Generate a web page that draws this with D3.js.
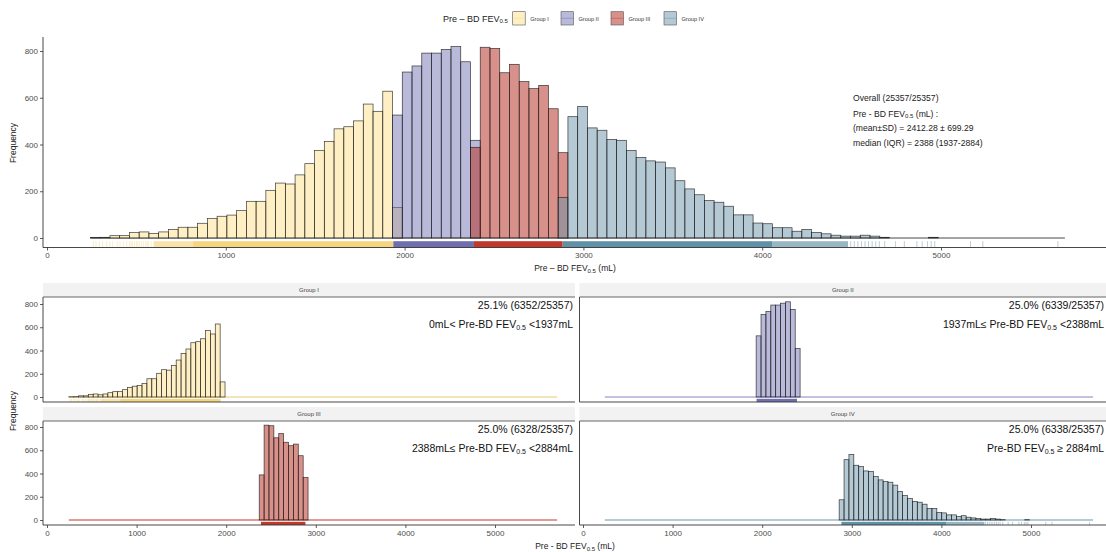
<!DOCTYPE html>
<html><head><meta charset="utf-8">
<script src="https://cdn.jsdelivr.net/npm/d3@7"></script>
<style>
body{margin:0;background:#fff}
svg{display:block}
text{font-family:"Liberation Sans",Arial,Helvetica,sans-serif}
</style>
</head><body>
<svg id="c" width="1106" height="552"></svg>
<script>
// ---------------- DATA ----------------
const groups = ["Group I", "Group II", "Group III", "Group IV"];
const binLow = 243, binWidth = 54.5, binTotal = 100;
const startBin = [0, 31, 39, 48];
const countsI = [2, 3, 10, 10, 23, 26, 19, 26, 37, 46, 46, 63, 83, 93, 98, 117, 157, 157, 204, 235, 231,
  270, 318, 375, 413, 467, 476, 501, 573, 542, 628, 130];
const countsII = [526, 710, 736, 791, 791, 807, 819, 754, 418];
const countsIII = [388, 816, 811, 707, 743, 669, 639, 653, 553, 365];
const countsIV = [174, 519, 563, 471, 461, 422, 418, 375, 345, 330, 325, 300, 245, 210, 185, 160,
  153, 136, 99, 99, 64, 61, 44, 44, 29, 37, 24, 18, 12, 8, 8, 12, 8, 3, 0, 0, 0, 0, 3];
const groupCounts = [countsI, countsII, countsIII, countsIV];

// rug: solid ranges, faint ranges and single ticks (mL)
const rugDense = [[[817, 1937]], [[1937, 2388]], [[2388, 2884]], [[2884, 4055]]];
const rugFaint = [[[596, 817]], [], [], [[4055, 4480]]];
const rugTicks = [
  [259, 274, 293, 311, 334, 352, 367, 393, 408, 427, 446, 462, 470, 478, 490, 500, 508, 518, 528, 540, 552, 560, 568, 582],
  [], [],
  [4495, 4515, 4535, 4555, 4575, 4595, 4615, 4635, 4655, 4685, 4745, 4795, 4865, 4895, 4925, 4945, 4965, 5165, 5234, 5654]
];

const xTicks = [0, 1000, 2000, 3000, 4000, 5000];
const yTicks = [0, 200, 400, 600, 800];
const pctLabels = ["25.1% (6352/25357)", "25.0% (6339/25357)", "25.0% (6328/25357)", "25.0% (6338/25357)"];
const rangePre = ["0mL< Pre-BD FEV", "1937mL\u2264 Pre-BD FEV", "2388mL\u2264 Pre-BD FEV", "Pre-BD FEV"];
const rangePost = [" <1937mL", " <2388mL", " <2884mL", " \u2265 2884mL"];
const overallLines = ["Overall (25357/25357)", null, "(mean\u00B1SD) = 2412.28 \u00B1 699.29", "median (IQR) = 2388 (1937-2884)"];

// ---------------- STYLE ----------------
const fillBase = ["#FFE08A", "#7473B5", "#B8352A", "#6A93AA"];
const fillOp = [0.5, 0.5, 0.55, 0.5];
const rugCol = ["#F5D57E", "#6F6FB0", "#C0392B", "#6191A6"];
const baseCol = ["#EBC870", "#8686BE", "#C0392B", "#6A98AD"];
const axisCol = "#333", tickTxt = "#4d4d4d";

const svg = d3.select("#c");
const edge = i => binLow + i * binWidth;

function styleAxis(g, labels) {
  g.select(".domain").remove();
  g.selectAll(".tick line").attr("stroke", axisCol).attr("stroke-width", 0.8);
  g.selectAll(".tick text").attr("fill", tickTxt).style("font-size", labels ? "8px" : "0px");
}

function addFEV(sel, pre, post, size, subSize) {
  sel.append("tspan").text(pre);
  sel.append("tspan").text("0.5").style("font-size", subSize + "px").attr("dy", size * 0.18);
  sel.append("tspan").text(post).attr("dy", -size * 0.18);
}

function drawRug(g, x, gi, yBot, len) {
  rugDense[gi].forEach(r => g.append("rect").attr("x", x(r[0])).attr("width", x(r[1]) - x(r[0]))
    .attr("y", yBot - len).attr("height", len).attr("fill", rugCol[gi]));
  rugFaint[gi].forEach(r => g.append("rect").attr("x", x(r[0])).attr("width", x(r[1]) - x(r[0]))
    .attr("y", yBot - len).attr("height", len).attr("fill", rugCol[gi]).attr("opacity", 0.65));
  rugTicks[gi].forEach(v => g.append("line").attr("x1", x(v)).attr("x2", x(v))
    .attr("y1", yBot - len).attr("y2", yBot).attr("stroke", rugCol[gi]).attr("stroke-width", 0.8).attr("opacity", 0.55));
}

function drawBars(g, x, y, gi) {
  const c = groupCounts[gi];
  c.forEach((v, k) => {
    if (v <= 0) return;
    const i = startBin[gi] + k;
    g.append("rect").attr("x", x(edge(i))).attr("width", x(edge(i + 1)) - x(edge(i)))
      .attr("y", y(v)).attr("height", y(0) - y(v))
      .attr("fill", fillBase[gi]).attr("fill-opacity", fillOp[gi])
      .attr("stroke", "#1a1a1a").attr("stroke-width", 0.7).attr("stroke-opacity", 0.85);
  });
}

// ---------------- TOP PANEL ----------------
const xT = d3.scaleLinear().domain([0, 5000]).range([47, 941]);
const yT = d3.scaleLinear().domain([0, 800]).range([238, 51]);
const topG = svg.append("g");
const axTopY = 247.5;

for (let gi = 0; gi < 4; gi++) drawRug(topG, xT, gi, axTopY, 6.3);
topG.append("line").attr("x1", xT(edge(0))).attr("x2", xT(edge(binTotal))).attr("y1", yT(0)).attr("y2", yT(0))
  .attr("stroke", "#1a1a1a").attr("stroke-width", 0.8);
for (let gi = 0; gi < 4; gi++) drawBars(topG, xT, yT, gi);

topG.append("line").attr("x1", 43).attr("x2", 1106).attr("y1", axTopY).attr("y2", axTopY).attr("stroke", axisCol).attr("stroke-width", 0.9);
topG.append("line").attr("x1", 43).attr("x2", 43).attr("y1", 37).attr("y2", axTopY).attr("stroke", axisCol).attr("stroke-width", 0.9);
topG.append("g").attr("transform", `translate(0,${axTopY})`)
  .call(d3.axisBottom(xT).tickValues(xTicks).tickFormat(d3.format("d")).tickSize(3).tickPadding(2))
  .call(g => styleAxis(g, true));
topG.append("g").attr("transform", "translate(43,0)")
  .call(d3.axisLeft(yT).tickValues(yTicks).tickSize(3).tickPadding(2))
  .call(g => styleAxis(g, true));

topG.append("text").attr("transform", "translate(16,143) rotate(-90)").attr("text-anchor", "middle")
  .style("font-size", "8.5px").attr("fill", "#222").text("Frequency");
const xtitle1 = topG.append("text").attr("x", 575).attr("y", 271).attr("text-anchor", "middle")
  .style("font-size", "8.5px").attr("fill", "#222");
addFEV(xtitle1, "Pre \u2013 BD FEV", " (mL)", 8.5, 6);

// overall annotation
const ann = topG.append("g").style("font-size", "8.6px").attr("fill", "#222");
[101, 116.5, 131, 145.5].forEach((yy, i) => {
  const t = ann.append("text").attr("x", 853).attr("y", yy);
  if (overallLines[i] === null) addFEV(t, "Pre - BD FEV", " (mL) :", 8.6, 6);
  else t.text(overallLines[i]);
});

// legend
const leg = svg.append("g");
const lt = leg.append("text").attr("x", 443).attr("y", 21.5).style("font-size", "9px").attr("fill", "#222");
addFEV(lt, "Pre \u2013 BD FEV", "", 9, 6);
const keyX = [512.7, 561, 611, 664];
groups.forEach((gname, gi) => {
  leg.append("rect").attr("x", keyX[gi]).attr("y", 11.7).attr("width", 12.5).attr("height", 13.3)
    .attr("fill", fillBase[gi]).attr("fill-opacity", fillOp[gi]).attr("stroke", "#555").attr("stroke-width", 0.6);
  leg.append("line").attr("x1", keyX[gi]).attr("x2", keyX[gi] + 12.5).attr("y1", 18.3).attr("y2", 18.3)
    .attr("stroke", rugCol[gi]).attr("stroke-width", 0.7).attr("opacity", 0.6);
  leg.append("text").attr("x", keyX[gi] + 17.5).attr("y", 20.5).style("font-size", "5.6px").attr("fill", "#333").text(gname);
});

// ---------------- FACET PANELS ----------------
const panels = [
  {gi: 0, x0: 43, x1: 575, zx: 47, stripTop: 283, ptop: 297, bot: 402, y0: 397, bottomRow: false},
  {gi: 1, x0: 579.5, x1: 1112, zx: 583, stripTop: 283, ptop: 297, bot: 402, y0: 397, bottomRow: false},
  {gi: 2, x0: 43, x1: 575, zx: 47, stripTop: 407, ptop: 421, bot: 525, y0: 520, bottomRow: true},
  {gi: 3, x0: 579.5, x1: 1112, zx: 583, stripTop: 407, ptop: 421, bot: 525, y0: 520, bottomRow: true}
];
panels.forEach(p => {
  const gi = p.gi;
  const x = d3.scaleLinear().domain([0, 5000]).range([p.zx, p.zx + 448]);
  const y = d3.scaleLinear().domain([0, 800]).range([p.y0, p.y0 - 93]);
  const g = svg.append("g");
  g.append("rect").attr("x", p.x0).attr("y", p.stripTop).attr("width", p.x1 - p.x0).attr("height", p.ptop - p.stripTop).attr("fill", "#f2f2f2");
  g.append("line").attr("x1", p.x0).attr("x2", p.x1).attr("y1", p.ptop).attr("y2", p.ptop).attr("stroke", "#666").attr("stroke-width", 1.2);
  g.append("text").attr("x", (p.x0 + p.x1) / 2 - (gi % 2 ? 3 : 0)).attr("y", p.stripTop + 9).attr("text-anchor", "middle")
    .style("font-size", "6px").attr("fill", "#444").text(groups[gi]);
  drawRug(g, x, gi, p.bot, 3.2);
  g.append("line").attr("x1", x(edge(0))).attr("x2", x(edge(binTotal))).attr("y1", y(0)).attr("y2", y(0))
    .attr("stroke", baseCol[gi]).attr("stroke-width", 1);
  drawBars(g, x, y, gi);
  g.append("line").attr("x1", p.x0).attr("x2", p.x1).attr("y1", p.bot).attr("y2", p.bot).attr("stroke", axisCol).attr("stroke-width", 0.9);
  g.append("line").attr("x1", p.x0).attr("x2", p.x0).attr("y1", p.ptop).attr("y2", p.bot).attr("stroke", axisCol).attr("stroke-width", 0.9);
  if (p.bottomRow) {
    g.append("g").attr("transform", `translate(0,${p.bot})`)
      .call(d3.axisBottom(x).tickValues(xTicks).tickFormat(d3.format("d")).tickSize(3).tickPadding(2))
      .call(a => styleAxis(a, true));
  }
  if (gi % 2 === 0) {
    g.append("g").attr("transform", `translate(${p.x0},0)`)
      .call(d3.axisLeft(y).tickValues(yTicks).tickSize(3).tickPadding(2))
      .call(a => styleAxis(a, true));
  }
  const tx = Math.min(p.x1 - 2, 1104);
  g.append("text").attr("x", tx).attr("y", p.ptop + 12).attr("text-anchor", "end")
    .style("font-size", "10.5px").attr("fill", "#111").text(pctLabels[gi]);
  const t2 = g.append("text").attr("x", tx).attr("y", p.ptop + 31).attr("text-anchor", "end")
    .style("font-size", "10.5px").attr("fill", "#111");
  addFEV(t2, rangePre[gi], rangePost[gi], 10.5, 7);
});

svg.append("text").attr("transform", "translate(16,411) rotate(-90)").attr("text-anchor", "middle")
  .style("font-size", "8.5px").attr("fill", "#222").text("Frequency");
const xtitle2 = svg.append("text").attr("x", 575).attr("y", 549).attr("text-anchor", "middle")
  .style("font-size", "8.5px").attr("fill", "#222");
addFEV(xtitle2, "Pre - BD FEV", " (mL)", 8.5, 6);
</script>
</body></html>
